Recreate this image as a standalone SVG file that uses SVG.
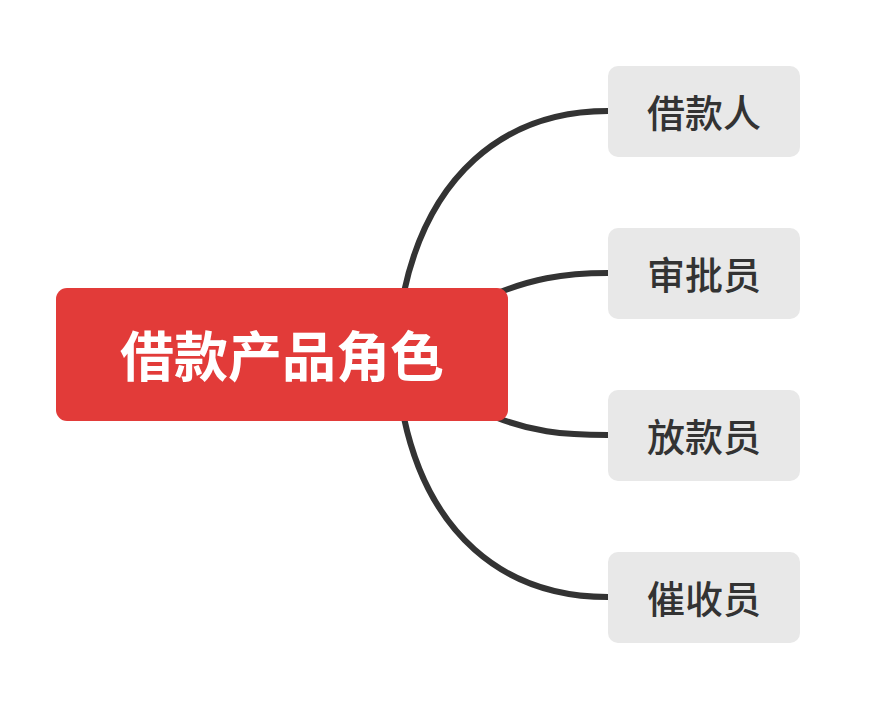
<svg xmlns="http://www.w3.org/2000/svg" width="890" height="708" viewBox="0 0 890 708">
<style>
.c{fill:none;stroke:#333;stroke-width:6}
.b{fill:#e8e8e8}
.t{font-family:"Noto Sans CJK SC",sans-serif;font-size:38px;font-weight:500;fill:#333;text-anchor:middle;dominant-baseline:central}
</style>
<rect width="890" height="708" fill="#fff"/>
<g id="connectors">
<path class="c" d="M404,292 C428,180 500,111 608,111"/>
<path class="c" d="M495,294 C530,280 560,273 608,273"/>
<path class="c" d="M495,417 C530,431 560,435 608,435"/>
<path class="c" d="M404,418 C428,530 500,597 608,597"/>
</g>
<g id="root">
<rect x="56" y="288" width="452" height="133" rx="11" fill="#e23b39"/>
<text x="282" y="353" font-family="Noto Sans CJK SC,sans-serif" font-size="54" font-weight="bold" fill="#fff" text-anchor="middle" dominant-baseline="central">借款产品角色</text>
</g>
<g id="n1"><rect class="b" x="608" y="66" width="192" height="91" rx="10"/><text class="t" x="704" y="110">借款人</text></g>
<g id="n2"><rect class="b" x="608" y="228" width="192" height="91" rx="10"/><text class="t" x="704" y="272">审批员</text></g>
<g id="n3"><rect class="b" x="608" y="390" width="192" height="91" rx="10"/><text class="t" x="704" y="434">放款员</text></g>
<g id="n4"><rect class="b" x="608" y="552" width="192" height="91" rx="10"/><text class="t" x="704" y="596">催收员</text></g>
</svg>
